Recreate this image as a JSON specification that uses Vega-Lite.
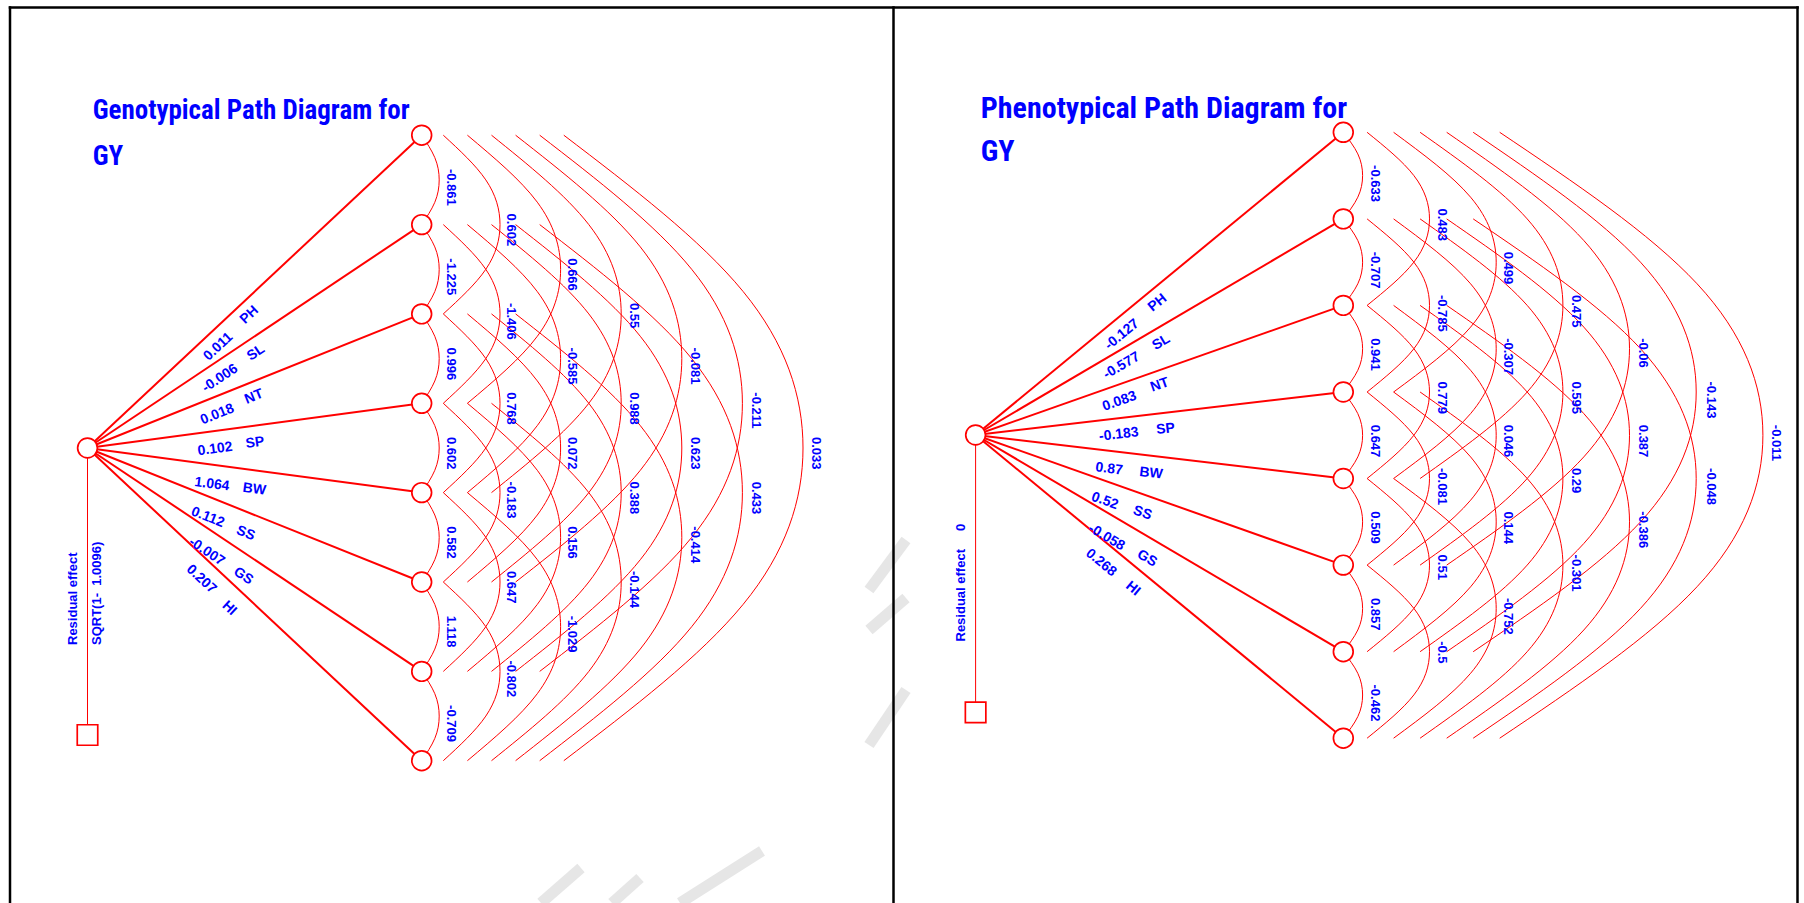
{
  "$schema": "https://vega.github.io/schema/vega-lite/v6.json",
  "width": 1804,
  "height": 903,
  "padding": 0,
  "autosize": {"type": "none"},
  "background": "#ffffff",
  "config": {"view": {"stroke": null}},
  "datasets": {
    "frame": [
      {"x": 10, "y": 7.5, "x2": 1797.5, "y2": 7.5},
      {"x": 10, "y": 7.5, "x2": 10, "y2": 903},
      {"x": 893.5, "y": 7.5, "x2": 893.5, "y2": 903},
      {"x": 1797.5, "y": 7.5, "x2": 1797.5, "y2": 903}
    ],
    "mark": [
      {"x": 869, "y": 590, "x2": 906, "y2": 540},
      {"x": 869, "y": 630, "x2": 906, "y2": 598},
      {"x": 869, "y": 745, "x2": 906, "y2": 690},
      {"x": 541, "y": 903, "x2": 581, "y2": 868},
      {"x": 612, "y": 903, "x2": 640, "y2": 878},
      {"x": 680, "y": 903, "x2": 762, "y2": 851}
    ],
    "arcs": [
      {"a": "G12", "x": [421.7,434.8,439.2,434.8,421.7], "y": [135.2,157.6,179.9,202.3,224.6], "k": [0,1,2,3,4]},
      {"a": "G23", "x": [421.7,434.8,439.2,434.8,421.7], "y": [224.6,246.9,269.3,291.6,313.9], "k": [0,1,2,3,4]},
      {"a": "G34", "x": [421.7,434.8,439.2,434.8,421.7], "y": [313.9,336.3,358.6,381.0,403.3], "k": [0,1,2,3,4]},
      {"a": "G45", "x": [421.7,434.8,439.2,434.8,421.7], "y": [403.3,425.6,448.0,470.3,492.6], "k": [0,1,2,3,4]},
      {"a": "G56", "x": [421.7,434.8,439.2,434.8,421.7], "y": [492.6,515.0,537.3,559.7,582.0], "k": [0,1,2,3,4]},
      {"a": "G67", "x": [421.7,434.8,439.2,434.8,421.7], "y": [582.0,604.4,626.7,649.1,671.4], "k": [0,1,2,3,4]},
      {"a": "G78", "x": [421.7,434.8,439.2,434.8,421.7], "y": [671.4,693.7,716.1,738.4,760.7], "k": [0,1,2,3,4]},
      {"a": "G13", "x": [443.3,485.8,500.0,485.8,443.3], "y": [135.2,179.9,224.6,269.3,313.9], "k": [0,1,2,3,4]},
      {"a": "G24", "x": [443.3,485.8,500.0,485.8,443.3], "y": [224.6,269.3,313.9,358.6,403.3], "k": [0,1,2,3,4]},
      {"a": "G35", "x": [443.3,485.8,500.0,485.8,443.3], "y": [313.9,358.6,403.3,448.0,492.6], "k": [0,1,2,3,4]},
      {"a": "G46", "x": [443.3,485.8,500.0,485.8,443.3], "y": [403.3,448.0,492.6,537.3,582.0], "k": [0,1,2,3,4]},
      {"a": "G57", "x": [443.3,485.8,500.0,485.8,443.3], "y": [492.6,537.3,582.0,626.7,671.4], "k": [0,1,2,3,4]},
      {"a": "G68", "x": [443.3,485.8,500.0,485.8,443.3], "y": [582.0,626.7,671.4,716.1,760.7], "k": [0,1,2,3,4]},
      {"a": "G14", "x": [467.4,537.3,560.6,537.3,467.4], "y": [135.2,202.2,269.3,336.3,403.3], "k": [0,1,2,3,4]},
      {"a": "G25", "x": [467.4,537.3,560.6,537.3,467.4], "y": [224.6,291.6,358.6,425.6,492.6], "k": [0,1,2,3,4]},
      {"a": "G36", "x": [467.4,537.3,560.6,537.3,467.4], "y": [313.9,380.9,448.0,515.0,582.0], "k": [0,1,2,3,4]},
      {"a": "G47", "x": [467.4,537.3,560.6,537.3,467.4], "y": [403.3,470.3,537.3,604.4,671.4], "k": [0,1,2,3,4]},
      {"a": "G58", "x": [467.4,537.3,560.6,537.3,467.4], "y": [492.6,559.6,626.7,693.7,760.7], "k": [0,1,2,3,4]},
      {"a": "G15", "x": [491.5,588.8,621.2,588.8,491.5], "y": [135.2,224.6,313.9,403.3,492.6], "k": [0,1,2,3,4]},
      {"a": "G26", "x": [491.5,588.8,621.2,588.8,491.5], "y": [224.6,313.9,403.3,492.6,582.0], "k": [0,1,2,3,4]},
      {"a": "G37", "x": [491.5,588.8,621.2,588.8,491.5], "y": [313.9,403.3,492.6,582.0,671.4], "k": [0,1,2,3,4]},
      {"a": "G48", "x": [491.5,588.8,621.2,588.8,491.5], "y": [403.3,492.6,582.0,671.4,760.7], "k": [0,1,2,3,4]},
      {"a": "G16", "x": [515.6,640.3,681.8,640.3,515.6], "y": [135.2,246.9,358.6,470.3,582.0], "k": [0,1,2,3,4]},
      {"a": "G27", "x": [515.6,640.3,681.8,640.3,515.6], "y": [224.6,336.3,448.0,559.7,671.4], "k": [0,1,2,3,4]},
      {"a": "G38", "x": [515.6,640.3,681.8,640.3,515.6], "y": [313.9,425.6,537.3,649.0,760.7], "k": [0,1,2,3,4]},
      {"a": "G17", "x": [539.7,691.7,742.4,691.7,539.7], "y": [135.2,269.3,403.3,537.4,671.4], "k": [0,1,2,3,4]},
      {"a": "G28", "x": [539.7,691.7,742.4,691.7,539.7], "y": [224.6,358.6,492.7,626.7,760.7], "k": [0,1,2,3,4]},
      {"a": "G18", "x": [563.8,743.2,803.0,743.2,563.8], "y": [135.2,291.6,448.0,604.3,760.7], "k": [0,1,2,3,4]},
      {"a": "P12", "x": [1343.3,1357.8,1362.6,1357.8,1343.3], "y": [132.3,153.9,175.6,197.2,218.9], "k": [0,1,2,3,4]},
      {"a": "P23", "x": [1343.3,1357.8,1362.6,1357.8,1343.3], "y": [218.9,240.5,262.2,283.8,305.4], "k": [0,1,2,3,4]},
      {"a": "P34", "x": [1343.3,1357.8,1362.6,1357.8,1343.3], "y": [305.4,327.0,348.7,370.3,392.0], "k": [0,1,2,3,4]},
      {"a": "P45", "x": [1343.3,1357.8,1362.6,1357.8,1343.3], "y": [392.0,413.6,435.3,456.9,478.5], "k": [0,1,2,3,4]},
      {"a": "P56", "x": [1343.3,1357.8,1362.6,1357.8,1343.3], "y": [478.5,500.1,521.8,543.4,565.1], "k": [0,1,2,3,4]},
      {"a": "P67", "x": [1343.3,1357.8,1362.6,1357.8,1343.3], "y": [565.1,586.7,608.4,630.0,651.7], "k": [0,1,2,3,4]},
      {"a": "P78", "x": [1343.3,1357.8,1362.6,1357.8,1343.3], "y": [651.7,673.3,695.0,716.6,738.2], "k": [0,1,2,3,4]},
      {"a": "P13", "x": [1367.1,1413.9,1429.5,1413.9,1367.1], "y": [132.3,175.6,218.9,262.1,305.4], "k": [0,1,2,3,4]},
      {"a": "P24", "x": [1367.1,1413.9,1429.5,1413.9,1367.1], "y": [218.9,262.2,305.4,348.7,392.0], "k": [0,1,2,3,4]},
      {"a": "P35", "x": [1367.1,1413.9,1429.5,1413.9,1367.1], "y": [305.4,348.7,392.0,435.2,478.5], "k": [0,1,2,3,4]},
      {"a": "P46", "x": [1367.1,1413.9,1429.5,1413.9,1367.1], "y": [392.0,435.3,478.5,521.8,565.1], "k": [0,1,2,3,4]},
      {"a": "P57", "x": [1367.1,1413.9,1429.5,1413.9,1367.1], "y": [478.5,521.8,565.1,608.4,651.7], "k": [0,1,2,3,4]},
      {"a": "P68", "x": [1367.1,1413.9,1429.5,1413.9,1367.1], "y": [565.1,608.4,651.7,694.9,738.2], "k": [0,1,2,3,4]},
      {"a": "P14", "x": [1393.6,1470.6,1496.2,1470.6,1393.6], "y": [132.3,197.2,262.2,327.1,392.0], "k": [0,1,2,3,4]},
      {"a": "P25", "x": [1393.6,1470.6,1496.2,1470.6,1393.6], "y": [218.9,283.8,348.7,413.6,478.5], "k": [0,1,2,3,4]},
      {"a": "P36", "x": [1393.6,1470.6,1496.2,1470.6,1393.6], "y": [305.4,370.3,435.3,500.2,565.1], "k": [0,1,2,3,4]},
      {"a": "P47", "x": [1393.6,1470.6,1496.2,1470.6,1393.6], "y": [392.0,456.9,521.9,586.8,651.7], "k": [0,1,2,3,4]},
      {"a": "P58", "x": [1393.6,1470.6,1496.2,1470.6,1393.6], "y": [478.5,543.4,608.4,673.3,738.2], "k": [0,1,2,3,4]},
      {"a": "P15", "x": [1420.1,1527.2,1562.9,1527.2,1420.1], "y": [132.3,218.9,305.4,392.0,478.5], "k": [0,1,2,3,4]},
      {"a": "P26", "x": [1420.1,1527.2,1562.9,1527.2,1420.1], "y": [218.9,305.4,392.0,478.5,565.1], "k": [0,1,2,3,4]},
      {"a": "P37", "x": [1420.1,1527.2,1562.9,1527.2,1420.1], "y": [305.4,392.0,478.5,565.1,651.7], "k": [0,1,2,3,4]},
      {"a": "P48", "x": [1420.1,1527.2,1562.9,1527.2,1420.1], "y": [392.0,478.5,565.1,651.7,738.2], "k": [0,1,2,3,4]},
      {"a": "P16", "x": [1446.7,1583.8,1629.5,1583.8,1446.7], "y": [132.3,240.5,348.7,456.9,565.1], "k": [0,1,2,3,4]},
      {"a": "P27", "x": [1446.7,1583.8,1629.5,1583.8,1446.7], "y": [218.9,327.1,435.3,543.5,651.7], "k": [0,1,2,3,4]},
      {"a": "P38", "x": [1446.7,1583.8,1629.5,1583.8,1446.7], "y": [305.4,413.6,521.8,630.0,738.2], "k": [0,1,2,3,4]},
      {"a": "P17", "x": [1473.2,1640.5,1696.2,1640.5,1473.2], "y": [132.3,262.2,392.0,521.9,651.7], "k": [0,1,2,3,4]},
      {"a": "P28", "x": [1473.2,1640.5,1696.2,1640.5,1473.2], "y": [218.9,348.7,478.6,608.4,738.2], "k": [0,1,2,3,4]},
      {"a": "P18", "x": [1499.7,1697.1,1762.9,1697.1,1499.7], "y": [132.3,283.8,435.3,586.7,738.2], "k": [0,1,2,3,4]}
    ],
    "paths": [
      {"p": "G", "v": "PH", "c": 0.011, "sx": 87.5, "sy": 448, "nx": 421.7, "ny": 135.2, "cx": 218.3, "cy": 346.7, "vx": 249.3, "vy": 315},
      {"p": "G", "v": "SL", "c": -0.006, "sx": 87.5, "sy": 448, "nx": 421.7, "ny": 224.6, "cx": 220, "cy": 378.3, "vx": 256, "vy": 352.7},
      {"p": "G", "v": "NT", "c": 0.018, "sx": 87.5, "sy": 448, "nx": 421.7, "ny": 313.9, "cx": 217.3, "cy": 414.3, "vx": 254, "vy": 396.7},
      {"p": "G", "v": "SP", "c": 0.102, "sx": 87.5, "sy": 448, "nx": 421.7, "ny": 403.3, "cx": 215, "cy": 449, "vx": 255, "vy": 442.7},
      {"p": "G", "v": "BW", "c": 1.064, "sx": 87.5, "sy": 448, "nx": 421.7, "ny": 492.6, "cx": 212, "cy": 484.3, "vx": 254.3, "vy": 489.3},
      {"p": "G", "v": "SS", "c": 0.112, "sx": 87.5, "sy": 448, "nx": 421.7, "ny": 582.0, "cx": 207.7, "cy": 517.3, "vx": 245.7, "vy": 533.3},
      {"p": "G", "v": "GS", "c": -0.007, "sx": 87.5, "sy": 448, "nx": 421.7, "ny": 671.4, "cx": 206.7, "cy": 551.7, "vx": 243.3, "vy": 576},
      {"p": "G", "v": "HI", "c": 0.207, "sx": 87.5, "sy": 448, "nx": 421.7, "ny": 760.7, "cx": 201.3, "cy": 579.3, "vx": 229.3, "vy": 608.3},
      {"p": "P", "v": "PH", "c": -0.127, "sx": 975.6, "sy": 435, "nx": 1343.3, "ny": 132.3, "cx": 1122, "cy": 334.5, "vx": 1157.5, "vy": 302.8},
      {"p": "P", "v": "SL", "c": -0.577, "sx": 975.6, "sy": 435, "nx": 1343.3, "ny": 218.9, "cx": 1121.5, "cy": 365.7, "vx": 1161.2, "vy": 342.3},
      {"p": "P", "v": "NT", "c": 0.083, "sx": 975.6, "sy": 435, "nx": 1343.3, "ny": 305.4, "cx": 1119.5, "cy": 401.3, "vx": 1159.8, "vy": 385},
      {"p": "P", "v": "SP", "c": -0.183, "sx": 975.6, "sy": 435, "nx": 1343.3, "ny": 392.0, "cx": 1118.8, "cy": 434.4, "vx": 1165.5, "vy": 429},
      {"p": "P", "v": "BW", "c": 0.87, "sx": 975.6, "sy": 435, "nx": 1343.3, "ny": 478.5, "cx": 1109.1, "cy": 469, "vx": 1151.1, "vy": 473.3},
      {"p": "P", "v": "SS", "c": 0.52, "sx": 975.6, "sy": 435, "nx": 1343.3, "ny": 565.1, "cx": 1104.8, "cy": 501, "vx": 1142.5, "vy": 513},
      {"p": "P", "v": "GS", "c": -0.058, "sx": 975.6, "sy": 435, "nx": 1343.3, "ny": 651.7, "cx": 1106.5, "cy": 537.3, "vx": 1147.1, "vy": 558.5},
      {"p": "P", "v": "HI", "c": 0.268, "sx": 975.6, "sy": 435, "nx": 1343.3, "ny": 738.2, "cx": 1101, "cy": 562.7, "vx": 1133, "vy": 588.6}
    ],
    "resid": [
      {"p": "G", "sx": 87.5, "sy": 448, "qy": 735},
      {"p": "P", "sx": 975.6, "sy": 435, "qy": 712.3}
    ],
    "corr": [
      {"r": -0.861, "x": 450.5, "y": 168.9}, {"r": -1.225, "x": 450.5, "y": 258.3}, {"r": 0.996, "x": 450.5, "y": 347.6},
      {"r": 0.602, "x": 450.5, "y": 437.0}, {"r": 0.582, "x": 450.5, "y": 526.3}, {"r": 1.118, "x": 450.5, "y": 615.7},
      {"r": -0.709, "x": 450.5, "y": 705.1},
      {"r": 0.602, "x": 511, "y": 213.6}, {"r": -1.406, "x": 511, "y": 302.9}, {"r": 0.768, "x": 511, "y": 392.3},
      {"r": -0.183, "x": 511, "y": 481.6}, {"r": 0.647, "x": 511, "y": 571.0}, {"r": -0.802, "x": 511, "y": 660.4},
      {"r": 0.666, "x": 572, "y": 258.3}, {"r": -0.585, "x": 572, "y": 347.6}, {"r": 0.072, "x": 572, "y": 437.0},
      {"r": 0.156, "x": 572, "y": 526.3}, {"r": -1.029, "x": 572, "y": 615.7},
      {"r": 0.55, "x": 633.5, "y": 302.9}, {"r": 0.988, "x": 633.5, "y": 392.3}, {"r": 0.388, "x": 633.5, "y": 481.6},
      {"r": -0.144, "x": 633.5, "y": 571.0},
      {"r": -0.081, "x": 694.5, "y": 347.6}, {"r": 0.623, "x": 694.5, "y": 437.0}, {"r": -0.414, "x": 694.5, "y": 526.3},
      {"r": -0.211, "x": 756, "y": 392.3}, {"r": 0.433, "x": 756, "y": 481.7},
      {"r": 0.033, "x": 815.5, "y": 437.0},
      {"r": -0.633, "x": 1375, "y": 165.1}, {"r": -0.707, "x": 1375, "y": 251.7}, {"r": 0.941, "x": 1375, "y": 338.2},
      {"r": 0.647, "x": 1375, "y": 424.8}, {"r": 0.509, "x": 1375, "y": 511.3}, {"r": 0.857, "x": 1375, "y": 597.9},
      {"r": -0.462, "x": 1375, "y": 684.5},
      {"r": 0.483, "x": 1441.7, "y": 208.4}, {"r": -0.785, "x": 1441.7, "y": 294.9}, {"r": 0.779, "x": 1441.7, "y": 381.5},
      {"r": -0.081, "x": 1441.7, "y": 468.0}, {"r": 0.51, "x": 1441.7, "y": 554.6}, {"r": -0.5, "x": 1441.7, "y": 641.2},
      {"r": 0.499, "x": 1507.5, "y": 251.7}, {"r": -0.307, "x": 1507.5, "y": 338.2}, {"r": 0.046, "x": 1507.5, "y": 424.8},
      {"r": 0.144, "x": 1507.5, "y": 511.4}, {"r": -0.752, "x": 1507.5, "y": 597.9},
      {"r": 0.475, "x": 1575.5, "y": 294.9}, {"r": 0.595, "x": 1575.5, "y": 381.5}, {"r": 0.29, "x": 1575.5, "y": 468.0},
      {"r": -0.301, "x": 1575.5, "y": 554.6},
      {"r": -0.06, "x": 1643.2, "y": 338.2}, {"r": 0.387, "x": 1643.2, "y": 424.8}, {"r": -0.386, "x": 1643.2, "y": 511.3},
      {"r": -0.143, "x": 1710.6, "y": 381.5}, {"r": -0.048, "x": 1710.6, "y": 468.1},
      {"r": -0.011, "x": 1775.8, "y": 424.8}
    ],
    "rtext": [
      {"t": "Residual effect", "x": 73.3, "y": 645},
      {"t": "SQRT(1-\u00a0\u00a01.0096)", "x": 96.7, "y": 645},
      {"t": "Residual effect\u00a0\u00a0\u00a0\u00a0\u00a00", "x": 961, "y": 641.5}
    ],
    "titles": [
      {"p": "G", "t": "Genotypical Path Diagram for", "x": 92.7, "y": 119.3},
      {"p": "G", "t": "GY", "x": 92.7, "y": 165},
      {"p": "P", "t": "Phenotypical Path Diagram for", "x": 980.8, "y": 118},
      {"p": "P", "t": "GY", "x": 980.8, "y": 161.1}
    ]
  },
  "layer": [
    {
      "data": {"name": "mark"},
      "mark": {"type": "rule", "color": "#e6e6e6", "strokeWidth": 11},
      "encoding": {
        "x": {"field": "x", "type": "quantitative", "scale": {"domain": [0, 1804], "nice": false, "zero": false}, "axis": null},
        "y": {"field": "y", "type": "quantitative", "scale": {"domain": [0, 903], "nice": false, "zero": false, "reverse": true}, "axis": null},
        "x2": {"field": "x2"},
        "y2": {"field": "y2"}
      }
    },
    {
      "data": {"name": "frame"},
      "mark": {"type": "rule", "color": "#000000", "strokeWidth": 2.5, "strokeCap": "square"},
      "encoding": {
        "x": {"field": "x", "type": "quantitative", "scale": {"domain": [0, 1804], "nice": false, "zero": false}, "axis": null},
        "y": {"field": "y", "type": "quantitative", "scale": {"domain": [0, 903], "nice": false, "zero": false, "reverse": true}, "axis": null},
        "x2": {"field": "x2"},
        "y2": {"field": "y2"}
      }
    },
    {
      "data": {"name": "arcs"},
      "transform": [{"flatten": ["x", "y", "k"]}],
      "mark": {"type": "line", "interpolate": "natural", "color": "#ff0000", "strokeWidth": 1},
      "encoding": {
        "x": {"field": "x", "type": "quantitative", "scale": {"domain": [0, 1804], "nice": false, "zero": false}, "axis": null},
        "y": {"field": "y", "type": "quantitative", "scale": {"domain": [0, 903], "nice": false, "zero": false, "reverse": true}, "axis": null},
        "detail": {"field": "a", "type": "nominal"},
        "order": {"field": "k", "type": "quantitative"}
      }
    },
    {
      "data": {"name": "paths"},
      "mark": {"type": "rule", "color": "#ff0000", "strokeWidth": 2},
      "encoding": {
        "x": {"field": "sx", "type": "quantitative", "scale": {"domain": [0, 1804], "nice": false, "zero": false}, "axis": null},
        "y": {"field": "sy", "type": "quantitative", "scale": {"domain": [0, 903], "nice": false, "zero": false, "reverse": true}, "axis": null},
        "x2": {"field": "nx"},
        "y2": {"field": "ny"}
      }
    },
    {
      "data": {"name": "resid"},
      "mark": {"type": "rule", "color": "#ff0000", "strokeWidth": 1},
      "encoding": {
        "x": {"field": "sx", "type": "quantitative", "scale": {"domain": [0, 1804], "nice": false, "zero": false}, "axis": null},
        "y": {"field": "sy", "type": "quantitative", "scale": {"domain": [0, 903], "nice": false, "zero": false, "reverse": true}, "axis": null},
        "y2": {"field": "qy"}
      }
    },
    {
      "data": {"name": "paths"},
      "mark": {"type": "point", "shape": "circle", "size": 390, "filled": true, "fill": "#ffffff", "stroke": "#ff0000", "strokeWidth": 1.7, "opacity": 1},
      "encoding": {
        "x": {"field": "nx", "type": "quantitative", "scale": {"domain": [0, 1804], "nice": false, "zero": false}, "axis": null},
        "y": {"field": "ny", "type": "quantitative", "scale": {"domain": [0, 903], "nice": false, "zero": false, "reverse": true}, "axis": null}
      }
    },
    {
      "data": {"name": "resid"},
      "mark": {"type": "point", "shape": "circle", "size": 390, "filled": true, "fill": "#ffffff", "stroke": "#ff0000", "strokeWidth": 1.7, "opacity": 1},
      "encoding": {
        "x": {"field": "sx", "type": "quantitative", "scale": {"domain": [0, 1804], "nice": false, "zero": false}, "axis": null},
        "y": {"field": "sy", "type": "quantitative", "scale": {"domain": [0, 903], "nice": false, "zero": false, "reverse": true}, "axis": null}
      }
    },
    {
      "data": {"name": "resid"},
      "mark": {"type": "point", "shape": "square", "size": 420, "filled": true, "fill": "#ffffff", "stroke": "#ff0000", "strokeWidth": 1.7, "opacity": 1},
      "encoding": {
        "x": {"field": "sx", "type": "quantitative", "scale": {"domain": [0, 1804], "nice": false, "zero": false}, "axis": null},
        "y": {"field": "qy", "type": "quantitative", "scale": {"domain": [0, 903], "nice": false, "zero": false, "reverse": true}, "axis": null}
      }
    },
    {
      "data": {"name": "corr"},
      "mark": {"type": "text", "angle": 90, "align": "left", "baseline": "middle", "font": "Liberation Sans", "fontSize": 13, "fontWeight": "bold", "color": "#0000ff"},
      "encoding": {
        "x": {"field": "x", "type": "quantitative", "scale": {"domain": [0, 1804], "nice": false, "zero": false}, "axis": null},
        "y": {"field": "y", "type": "quantitative", "scale": {"domain": [0, 903], "nice": false, "zero": false, "reverse": true}, "axis": null},
        "text": {"field": "r", "type": "nominal"}
      }
    },
    {
      "data": {"name": "paths"},
      "transform": [{"calculate": "atan2(datum.ny - datum.sy, datum.nx - datum.sx) * 180 / PI", "as": "ang"}],
      "mark": {"type": "text", "align": "center", "baseline": "middle", "font": "Liberation Sans", "fontSize": 14, "fontWeight": "bold", "color": "#0000ff"},
      "encoding": {
        "x": {"field": "cx", "type": "quantitative", "scale": {"domain": [0, 1804], "nice": false, "zero": false}, "axis": null},
        "y": {"field": "cy", "type": "quantitative", "scale": {"domain": [0, 903], "nice": false, "zero": false, "reverse": true}, "axis": null},
        "angle": {"field": "ang", "type": "quantitative", "scale": null},
        "text": {"field": "c", "type": "nominal"}
      }
    },
    {
      "data": {"name": "paths"},
      "transform": [{"calculate": "atan2(datum.ny - datum.sy, datum.nx - datum.sx) * 180 / PI", "as": "ang"}],
      "mark": {"type": "text", "align": "center", "baseline": "middle", "font": "Liberation Sans", "fontSize": 14, "fontWeight": "bold", "color": "#0000ff"},
      "encoding": {
        "x": {"field": "vx", "type": "quantitative", "scale": {"domain": [0, 1804], "nice": false, "zero": false}, "axis": null},
        "y": {"field": "vy", "type": "quantitative", "scale": {"domain": [0, 903], "nice": false, "zero": false, "reverse": true}, "axis": null},
        "angle": {"field": "ang", "type": "quantitative", "scale": null},
        "text": {"field": "v", "type": "nominal"}
      }
    },
    {
      "data": {"name": "rtext"},
      "mark": {"type": "text", "angle": 270, "align": "left", "baseline": "middle", "font": "Liberation Sans", "fontSize": 13, "fontWeight": "bold", "color": "#0000ff"},
      "encoding": {
        "x": {"field": "x", "type": "quantitative", "scale": {"domain": [0, 1804], "nice": false, "zero": false}, "axis": null},
        "y": {"field": "y", "type": "quantitative", "scale": {"domain": [0, 903], "nice": false, "zero": false, "reverse": true}, "axis": null},
        "text": {"field": "t", "type": "nominal"}
      }
    },
    {
      "data": {"name": "titles"},
      "transform": [{"filter": "datum.p == 'G'"}],
      "mark": {"type": "text", "align": "left", "baseline": "alphabetic", "font": "Roboto Condensed", "fontSize": 27, "fontWeight": "bold", "color": "#0000ff"},
      "encoding": {
        "x": {"field": "x", "type": "quantitative", "scale": {"domain": [0, 1804], "nice": false, "zero": false}, "axis": null},
        "y": {"field": "y", "type": "quantitative", "scale": {"domain": [0, 903], "nice": false, "zero": false, "reverse": true}, "axis": null},
        "text": {"field": "t", "type": "nominal"}
      }
    },
    {
      "data": {"name": "titles"},
      "transform": [{"filter": "datum.p == 'P'"}],
      "mark": {"type": "text", "align": "left", "baseline": "alphabetic", "font": "Roboto Condensed", "fontSize": 30, "fontWeight": "bold", "color": "#0000ff"},
      "encoding": {
        "x": {"field": "x", "type": "quantitative", "scale": {"domain": [0, 1804], "nice": false, "zero": false}, "axis": null},
        "y": {"field": "y", "type": "quantitative", "scale": {"domain": [0, 903], "nice": false, "zero": false, "reverse": true}, "axis": null},
        "text": {"field": "t", "type": "nominal"}
      }
    }
  ]
}
